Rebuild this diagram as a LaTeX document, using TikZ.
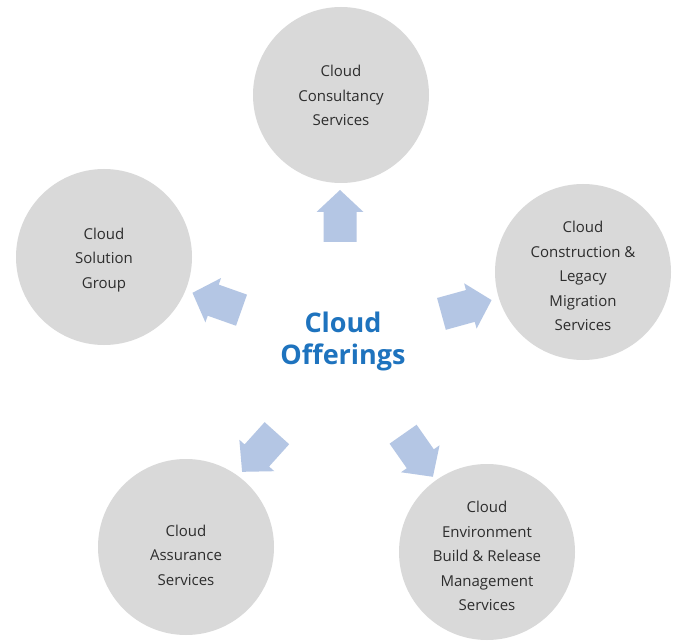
\documentclass[tikz,border=0pt]{standalone}
\usepackage{fontspec}
\setmainfont{Open Sans}
\definecolor{bubblegray}{RGB}{217,217,217}
\definecolor{arrowblue}{RGB}{180,198,228}
\definecolor{titleblue}{RGB}{30,115,190}
\definecolor{textgray}{RGB}{45,45,45}
\begin{document}
\begin{tikzpicture}[x=1pt,y=1pt,
  bubble/.style={circle, fill=bubblegray, minimum size=176pt, inner sep=0pt},
  bubbletext/.style={align=center, text=textgray, inner sep=0pt, font=\fontsize{15}{24.5}\selectfont},
  title/.style={align=center, text=titleblue, font=\bfseries\fontsize{27}{32}\selectfont},
  blockarrow/.pic={\fill[arrowblue] (-26,-16.5) -- (4,-16.5) -- (4,-23.5) -- (26,0) -- (4,23.5) -- (4,16.5) -- (-26,16.5) -- cycle;}
]
\useasboundingbox (0,0) rectangle (677,641);
\fill[white] (0,0) rectangle (677,641);

\node[bubble] (consult) at (341,546) {};
\node[bubble] (solution) at (104,384) {};
\node[bubble] (construct) at (583,369) {};
\node[bubble] (assure) at (186,94) {};
\node[bubble] (environ) at (487,89) {};

\node[bubbletext] (consultT) at ([yshift=-0.5pt]consult.center) {Cloud\\Consultancy\\Services};
\node[bubbletext] (solutionT) at ([yshift=-3pt]solution.center) {Cloud\\Solution\\Group};
\node[bubbletext] (constructT) at ([yshift=-4pt]construct.center) {Cloud\\Construction \&\\Legacy\\Migration\\Services};
\node[bubbletext] (assureT) at ([yshift=-8pt]assure.center) {Cloud\\Assurance\\Services};
\node[bubbletext] (environT) at ([yshift=-4pt]environ.center) {Cloud\\Environment\\Build \& Release\\Management\\Services};

\node[title] (center) at (343,300) {Cloud\\Offerings};

\pic[rotate=90] (atop) at (340,425) {blockarrow};
\pic[rotate=160.5] (aleft) at (217,339.5) {blockarrow};
\pic[rotate=15.4] (aright) at (466.5,334) {blockarrow};
\pic[rotate=-132] (abl) at (259.5,188.5) {blockarrow};
\pic[rotate=-55] (abr) at (418,185.5) {blockarrow};
\end{tikzpicture}
\end{document}
